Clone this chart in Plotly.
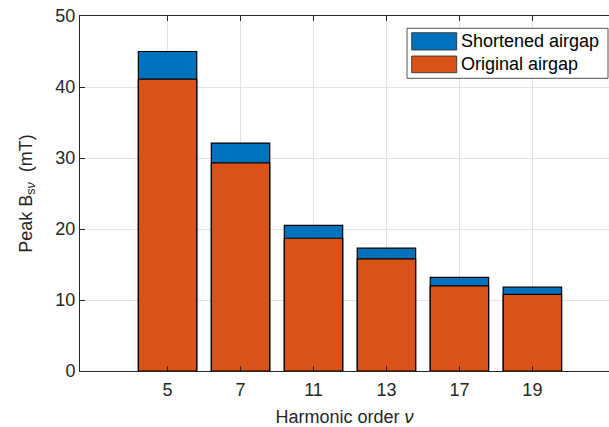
import plotly.graph_objects as go

harmonics = ["5", "7", "11", "13", "17", "19"]
positions = [1, 2, 3, 4, 5, 6]
shortened = [45.0, 32.1, 20.5, 17.3, 13.2, 11.8]
original = [41.1, 29.3, 18.7, 15.8, 12.0, 10.8]
series_names = ["Shortened airgap", "Original airgap"]
series_colors = ["#0072BD", "#D95319"]

FONT = "Liberation Sans, Arial, Helvetica, sans-serif"
TXT = "#262626"

fig = go.Figure()
for vals, name, col in [(shortened, series_names[0], series_colors[0]),
                        (original, series_names[1], series_colors[1])]:
    fig.add_trace(go.Bar(x=positions, y=vals, name=name, width=0.8,
                         marker=dict(color=col, line=dict(color="black", width=1.2)),
                         showlegend=False))

# manual MATLAB-style legend
L, T, PW, PH = 80, 16, 529, 355
def px(x):
    return (x - L) / PW
def py(y):
    return (T + PH - y) / PH

fig.add_shape(type="rect", xref="paper", yref="paper",
              x0=px(407), x1=px(608), y0=py(78.3), y1=py(28.3),
              line=dict(color=TXT, width=0.8), fillcolor="white", layer="above")
rows = [(32.7, 50.0), (56.0, 72.7)]
for (ya, yb), name, col in zip(rows, series_names, series_colors):
    fig.add_shape(type="rect", xref="paper", yref="paper",
                  x0=px(411.7), x1=px(456.7), y0=py(yb), y1=py(ya),
                  line=dict(color=TXT, width=0.8), fillcolor=col, layer="above")
    fig.add_annotation(xref="paper", yref="paper", x=px(458.5), y=py((ya + yb) / 2),
                       text=name, showarrow=False, xanchor="left", yanchor="middle",
                       font=dict(family=FONT, size=18, color="black"))

fig.update_layout(
    width=609, height=427,
    margin=dict(l=L, r=0, t=T, b=427 - T - PH),
    paper_bgcolor="white", plot_bgcolor="white",
    barmode="overlay",
    font=dict(family=FONT, size=18, color=TXT),
    xaxis=dict(range=[-0.2, 7.05], tickmode="array", tickvals=positions, ticktext=harmonics,
               showgrid=True, gridcolor="#e3e3e3", gridwidth=1,
               showline=True, linecolor=TXT, linewidth=1, mirror="ticks",
               ticks="inside", ticklen=5, tickcolor=TXT, zeroline=False,
               ticklabelstandoff=2,
               title=dict(text="Harmonic order <i>ν</i>", standoff=12,
                          font=dict(family=FONT, size=18, color=TXT))),
    yaxis=dict(range=[0, 50], tickmode="array", tickvals=[0, 10, 20, 30, 40, 50],
               showgrid=True, gridcolor="#e3e3e3", gridwidth=1,
               showline=True, linecolor=TXT, linewidth=1,
               ticks="inside", ticklen=5, tickcolor=TXT, zeroline=False,
               title=dict(text="Peak B<sub>s<i>ν</i></sub>&nbsp; (mT)", standoff=18,
                          font=dict(family=FONT, size=18, color=TXT))),
)

fig.write_html("out.html", config={"displayModeBar": False},
               post_script="document.body.style.margin='0';document.body.style.overflow='hidden';")
